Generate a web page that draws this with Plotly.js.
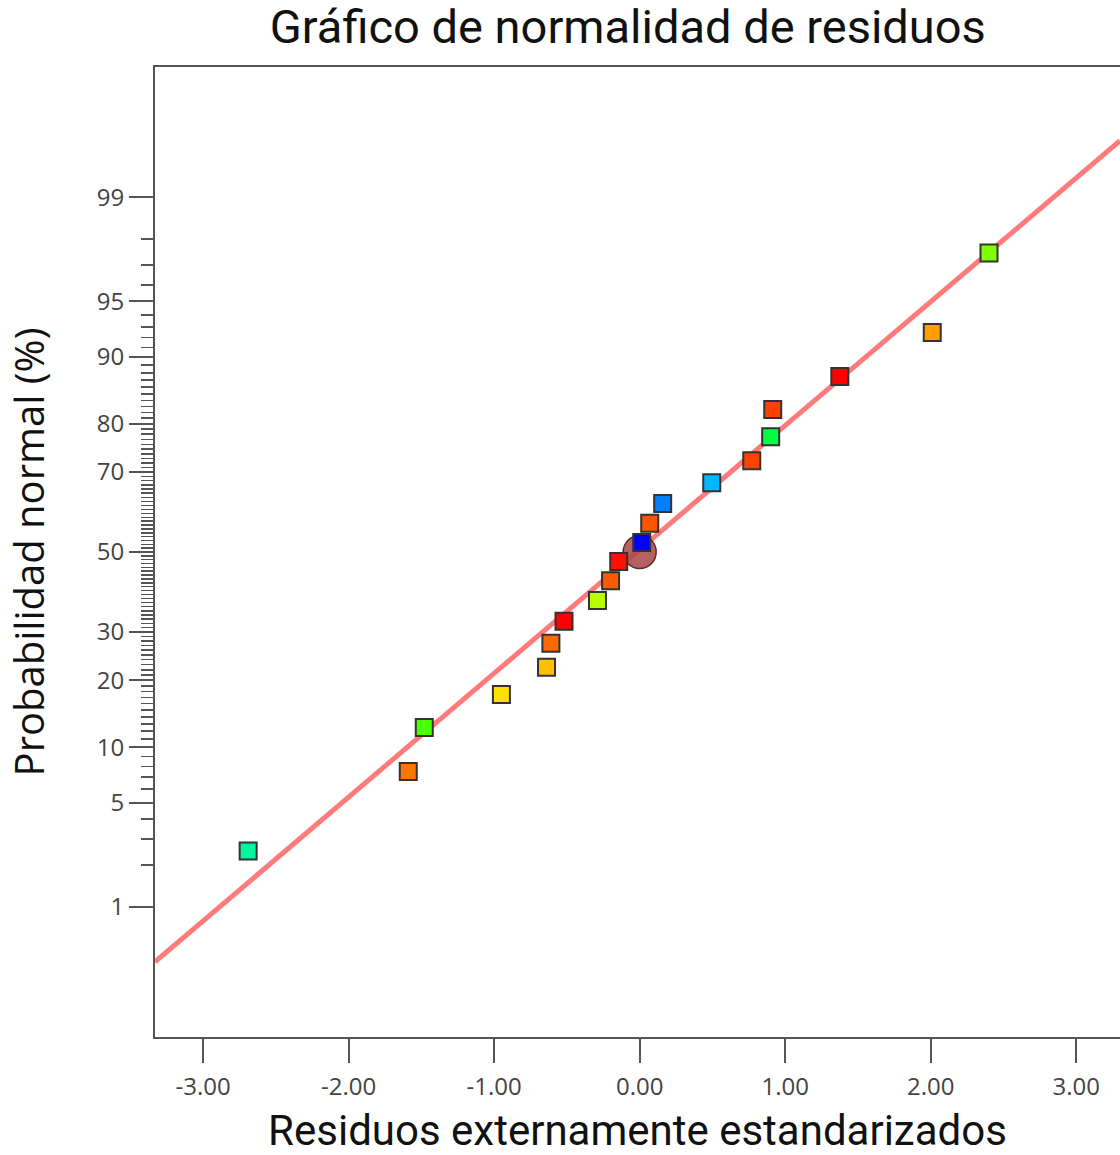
<!DOCTYPE html>
<html>
<head>
<meta charset="utf-8">
<script src="https://cdn.plot.ly/plotly-3.0.1.min.js"></script>
<style>html,body{margin:0;padding:0;background:#fff;overflow:hidden}</style>
</head>
<body>
<div id="chart" style="width:1120px;height:1155px"></div>
<script>
// Residuals (externally studentized) and normal probability (%)
const residuals = [-2.69, -1.59, -1.48, -0.95, -0.64, -0.61, -0.52, -0.29, -0.20, -0.144,
                   0.014, 0.069, 0.158, 0.495, 0.77, 0.90, 0.914, 1.375, 2.01, 2.40];
const probabilities = [2.5, 7.5, 12.5, 17.5, 22.5, 27.5, 32.5, 37.5, 42.5, 47.5,
                       52.5, 57.5, 62.5, 67.5, 72.5, 77.5, 82.5, 87.5, 92.5, 97.5];
const pointColors = ['#00f5a0', '#ff7700', '#4cff00', '#ffe000', '#ffc000', '#ff6a00', '#ff0000', '#b8ff00', '#ff5a00', '#ff1000',
                     '#0000ff', '#ff5500', '#0080ff', '#00b8ff', '#ff4400', '#00ff44', '#ff4000', '#ff0000', '#ffa000', '#80ff00'];
// Reference line (x, probability %)
const lineX = [-3.33, 3.30];
const lineP = [0.36, 99.65];
// Center marker
const centerX = [0.0];
const centerP = [50];
// Tick labels
const xTicks = [-3, -2, -1, 0, 1, 2, 3];
const xTickText = ['-3.00', '-2.00', '-1.00', '0.00', '1.00', '2.00', '3.00'];
const yTicks = [1, 5, 10, 20, 30, 50, 70, 80, 90, 95, 99];
const yMinorTicks = [2,3,4,6,7,8,9,11,12,13,14,15,16,17,18,19,21,22,23,24,25,26,27,28,29,
  31,32,33,34,35,36,37,38,39,40,41,42,43,44,45,46,47,48,49,51,52,53,54,55,56,57,58,59,60,
  61,62,63,64,65,66,67,68,69,71,72,73,74,75,76,77,78,79,81,82,83,84,85,86,87,88,89,
  91,92,93,94,96,97,98];

// Probit scale (inverse normal CDF), Acklam's approximation
function probit(pct) {
  const p = pct / 100;
  const a = [-3.969683028665376e+01, 2.209460984245205e+02, -2.759285104469687e+02, 1.383577518672690e+02, -3.066479806614716e+01, 2.506628277459239e+00];
  const b = [-5.447609879822406e+01, 1.615858368580409e+02, -1.556989798598866e+02, 6.680131188771972e+01, -1.328068155288572e+01];
  const c = [-7.784894002430293e-03, -3.223964580411365e-01, -2.400758277161838e+00, -2.549732539343734e+00, 4.374664141464968e+00, 2.938163982698783e+00];
  const d = [7.784695709041462e-03, 3.224671290700398e-01, 2.445134137142996e+00, 3.754408661907416e+00];
  const pl = 0.02425, ph = 1 - pl;
  let q, r;
  if (p < pl) {
    q = Math.sqrt(-2 * Math.log(p));
    return (((((c[0]*q+c[1])*q+c[2])*q+c[3])*q+c[4])*q+c[5]) / ((((d[0]*q+d[1])*q+d[2])*q+d[3])*q+1);
  } else if (p <= ph) {
    q = p - 0.5; r = q*q;
    return (((((a[0]*r+a[1])*r+a[2])*r+a[3])*r+a[4])*r+a[5])*q / (((((b[0]*r+b[1])*r+b[2])*r+b[3])*r+b[4])*r+1);
  } else {
    q = Math.sqrt(-2 * Math.log(1 - p));
    return -(((((c[0]*q+c[1])*q+c[2])*q+c[3])*q+c[4])*q+c[5]) / ((((d[0]*q+d[1])*q+d[2])*q+d[3])*q+1);
  }
}

const traces = [
  {
    x: lineX, y: lineP.map(probit), mode: 'lines', type: 'scatter',
    line: {color: '#ff7b7b', width: 5}, hoverinfo: 'skip', showlegend: false
  },
  {
    x: centerX, y: centerP.map(probit), mode: 'markers', type: 'scatter',
    marker: {symbol: 'circle', size: 33, color: 'rgba(170,70,70,0.85)', line: {color: '#5a2a2a', width: 1.5}},
    showlegend: false
  },
  {
    x: residuals, y: probabilities.map(probit), mode: 'markers', type: 'scatter',
    marker: {symbol: 'square', size: 17, color: pointColors, line: {color: '#333333', width: 2}},
    showlegend: false
  }
];

const axisFont = {family: 'Open Sans, sans-serif', size: 24, color: '#444444'};

const layout = {
  width: 1120, height: 1155,
  margin: {l: 155, r: 0, t: 67, b: 118},
  paper_bgcolor: '#ffffff', plot_bgcolor: '#ffffff',
  showlegend: false,
  title: {
    text: 'Gráfico de normalidad de residuos',
    font: {family: 'Roboto, sans-serif', size: 47, color: '#111111'},
    xref: 'paper', x: 0.49, xanchor: 'center',
    yref: 'container', y: 0.977, yanchor: 'middle'
  },
  xaxis: {
    range: [-3.33, 3.30],
    tickmode: 'array', tickvals: xTicks, ticktext: xTickText,
    ticks: 'outside', ticklen: 24, tickwidth: 2, tickcolor: '#555555',
    tickfont: axisFont, ticklabelstandoff: 3,
    showgrid: false, zeroline: false,
    showline: true, linecolor: '#555555', linewidth: 2, mirror: true,
    title: {text: 'Residuos externamente estandarizados', font: {family: 'Roboto, sans-serif', size: 42, color: '#111111'}, standoff: 16}
  },
  yaxis: {
    range: [-3.18, 3.18],
    tickmode: 'array', tickvals: yTicks.map(probit), ticktext: yTicks.map(String),
    ticks: 'outside', ticklen: 24, tickwidth: 2, tickcolor: '#555555',
    tickfont: axisFont,
    minor: {tickmode: 'array', tickvals: yMinorTicks.map(probit), ticks: 'outside', ticklen: 12, tickwidth: 1.5, tickcolor: '#555555', showgrid: false},
    showgrid: false, zeroline: false,
    showline: true, linecolor: '#555555', linewidth: 2, mirror: false,
    title: {text: 'Probabilidad normal (%)\u00a0\u00a0\u00a0', font: {family: 'Open Sans, sans-serif', size: 40, color: '#111111'}, standoff: 40}
  }
};

Plotly.newPlot('chart', traces, layout, {displayModeBar: false, staticPlot: true});
</script>
</body>
</html>
